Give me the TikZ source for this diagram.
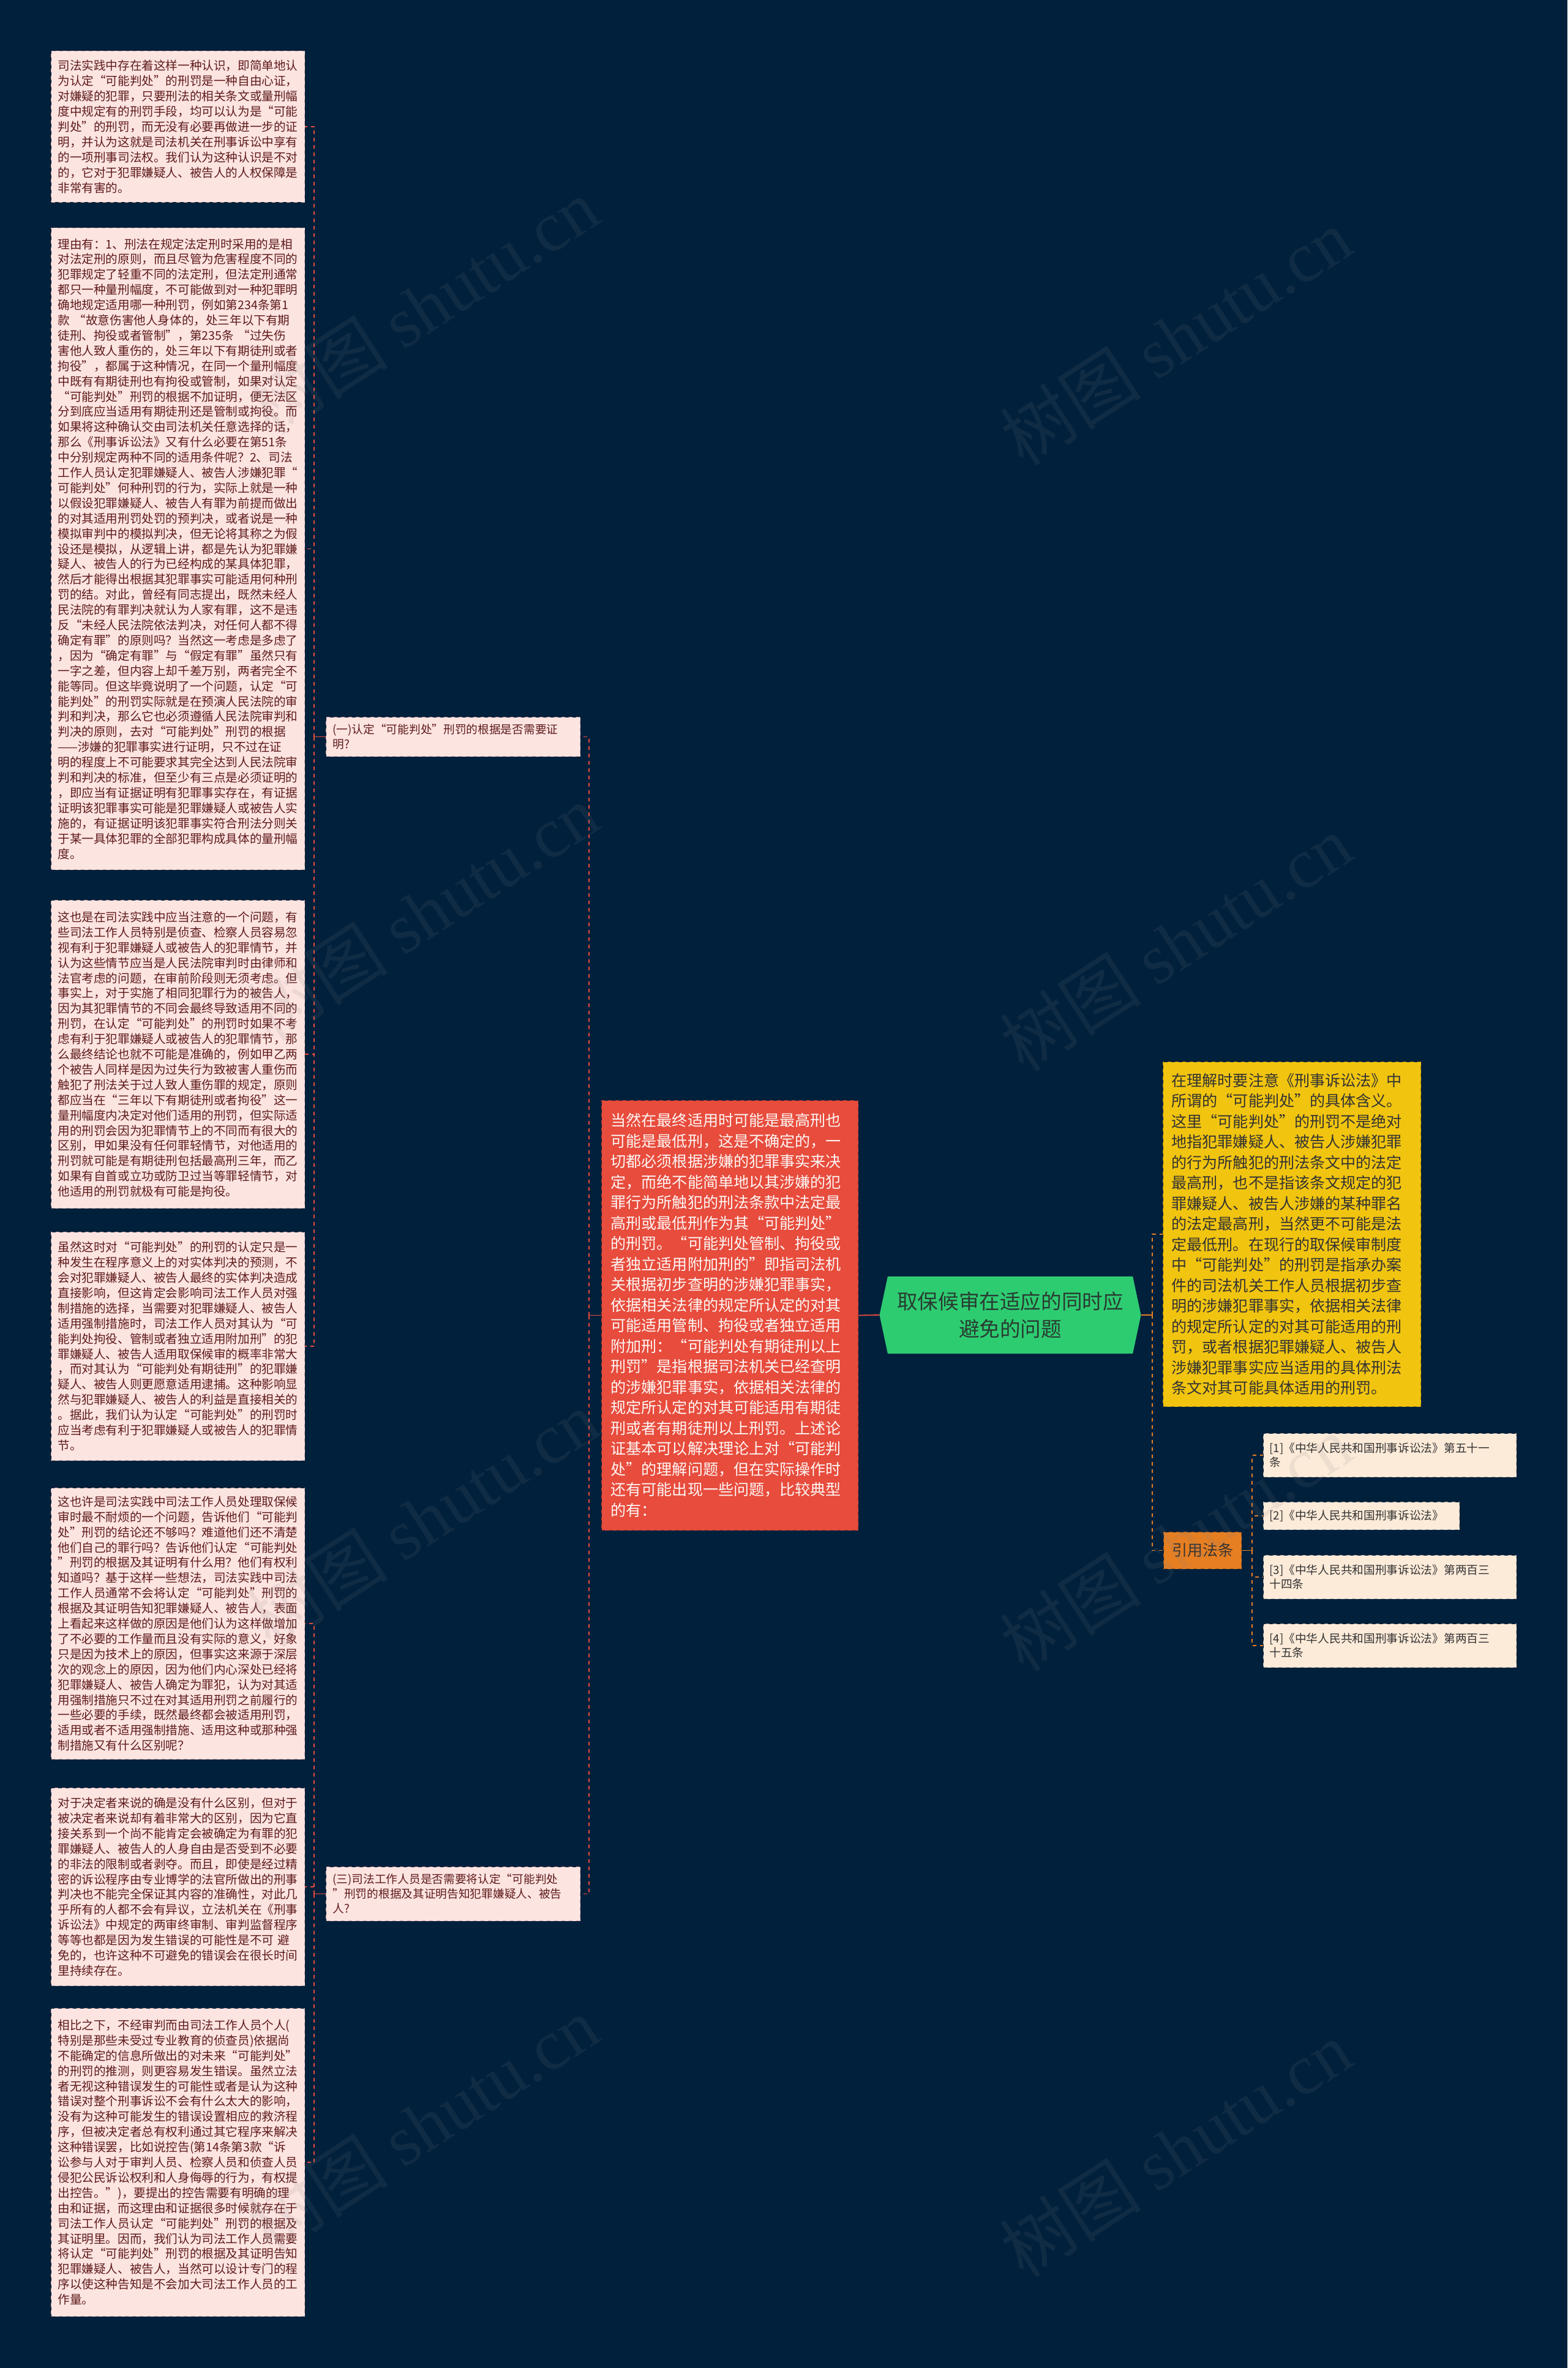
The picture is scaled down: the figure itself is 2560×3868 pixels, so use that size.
\documentclass[tikz,border=0pt]{standalone}
\usepackage{fontspec}
\setmainfont{Noto Sans CJK SC}
\newfontfamily\wmlatin{Liberation Serif}
\usetikzlibrary{shapes.symbols}

% --- 颜色 ---
\definecolor{bgnavy}{RGB}{1,32,60}
\definecolor{leafpink}{RGB}{252,228,225}
\definecolor{leafedge}{RGB}{214,170,165}
\definecolor{leaftext}{RGB}{94,27,27}
\definecolor{lunred}{RGB}{231,76,60}
\definecolor{rootgreen}{RGB}{46,204,113}
\definecolor{roottext}{RGB}{40,60,50}
\definecolor{lijieyellow}{RGB}{241,196,15}
\definecolor{citeorange}{RGB}{230,126,34}
\definecolor{refpeach}{RGB}{253,235,217}
\definecolor{darktext}{RGB}{51,51,51}

\tikzset{
  leafbox/.style={anchor=north west, fill=leafpink, draw=leafedge, dashed, line width=0.5pt,
    text=leaftext, align=left, text width=196pt, inner xsep=5.5pt, inner ysep=0pt,
    font=\fontsize{9.8pt}{12.45pt}\selectfont},
  qbox/.style={anchor=north west, fill=leafpink, draw=leafedge, dashed, line width=0.5pt,
    text=leaftext, align=left, text width=196.5pt, inner xsep=5.5pt, inner ysep=0pt,
    font=\fontsize{9.35pt}{12pt}\selectfont},
  lunbox/.style={anchor=north west, fill=lunred, draw=lunred!75!black, dashed, line width=0.5pt,
    text=white!95!lunred, align=left, text width=194.5pt, inner xsep=7.5pt, inner ysep=0pt,
    font=\fontsize{12.55pt}{16.75pt}\selectfont},
  lijiebox/.style={anchor=north west, fill=lijieyellow, draw=lijieyellow!70!black, dashed, line width=0.5pt,
    text=darktext, align=left, text width=196.5pt, inner xsep=7pt, inner ysep=0pt,
    font=\fontsize{12.55pt}{16.75pt}\selectfont},
  citebox/.style={anchor=north west, fill=citeorange, draw=citeorange!70!black, dashed, line width=0.5pt,
    text=darktext, align=center, inner sep=0pt, minimum width=63.5pt, minimum height=30pt,
    font=\fontsize{12.5pt}{15pt}\selectfont},
  refbox/.style={anchor=north west, fill=refpeach, draw=refpeach!75!black, dashed, line width=0.5pt,
    text=darktext, align=left, text width=196.5pt, inner xsep=5pt, inner ysep=0pt,
    font=\fontsize{9.35pt}{11.65pt}\selectfont},
  rootbox/.style={shape=signal, signal to=west and east, signal pointer angle=156,
    fill=rootgreen, text=roottext, align=center, inner sep=0pt,
    minimum width=213.5pt, minimum height=63pt,
    font=\fontsize{16.8pt}{22.25pt}\selectfont},
  redline/.style={draw=lunred, line width=0.9pt},
  orangeline/.style={draw=citeorange, line width=0.9pt},
  wmark/.style={rotate=33, text=gray, opacity=0.12, inner sep=0pt,
    font=\fontsize{58pt}{58pt}\selectfont},
}

\begin{document}
\begin{tikzpicture}[x=0.5pt,y=-0.5pt]
  % --- 背景 ---
  \useasboundingbox (0,0) rectangle (2560,3868);
  \fill[bgnavy] (0,0) rectangle (2560,3868);

  % --- 中心主题 ---
  \node[rootbox] (root) at (1650,2148) {取保候审在适应的同时应\\避免的问题};

  % --- 左侧：论述 ---
  \node[lunbox, minimum height=351pt] (lunshu) at (982,1797) {%
当然在最终适用时可能是最高刑也\\
可能是最低刑，这是不确定的，一\\
切都必须根据涉嫌的犯罪事实来决\\
定，而绝不能简单地以其涉嫌的犯\\
罪行为所触犯的刑法条款中法定最\\
高刑或最低刑作为其“可能判处”\\
的刑罚。“可能判处管制、拘役或\\
者独立适用附加刑的”即指司法机\\
关根据初步查明的涉嫌犯罪事实，\\
依据相关法律的规定所认定的对其\\
可能适用管制、拘役或者独立适用\\
附加刑：“可能判处有期徒刑以上\\
刑罚”是指根据司法机关已经查明\\
的涉嫌犯罪事实，依据相关法律的\\
规定所认定的对其可能适用有期徒\\
刑或者有期徒刑以上刑罚。上述论\\
证基本可以解决理论上对“可能判\\
处”的理解问题，但在实际操作时\\
还有可能出现一些问题，比较典型\\
的有：};

  % 两个问题
  \node[qbox, minimum height=32pt] (wenti1) at (532,1171) {%
(一)认定“可能判处”刑罚的根据是否需要证\\
明?};
  \node[qbox, minimum height=44pt] (wenti3) at (532,3049) {%
(三)司法工作人员是否需要将认定“可能判处\\
”刑罚的根据及其证明告知犯罪嫌疑人、被告\\
人?};

  % --- 最左侧：各段说明 ---
  \node[leafbox, minimum height=123.5pt] (duan1) at (83,83) {%
司法实践中存在着这样一种认识，即简单地认\\
为认定“可能判处”的刑罚是一种自由心证，\\
对嫌疑的犯罪，只要刑法的相关条文或量刑幅\\
度中规定有的刑罚手段，均可以认为是“可能\\
判处”的刑罚，而无没有必要再做进一步的证\\
明，并认为这就是司法机关在刑事诉讼中享有\\
的一项刑事司法权。我们认为这种认识是不对\\
的，它对于犯罪嫌疑人、被告人的人权保障是\\
非常有害的。};

  \node[leafbox, minimum height=524pt] (duan2) at (83,372) {%
理由有：1、刑法在规定法定刑时采用的是相\\
对法定刑的原则，而且尽管为危害程度不同的\\
犯罪规定了轻重不同的法定刑，但法定刑通常\\
都只一种量刑幅度，不可能做到对一种犯罪明\\
确地规定适用哪一种刑罚，例如第234条第1\\
款 “故意伤害他人身体的，处三年以下有期\\
徒刑、拘役或者管制”，第235条 “过失伤\\
害他人致人重伤的，处三年以下有期徒刑或者\\
拘役”，都属于这种情况，在同一个量刑幅度\\
中既有有期徒刑也有拘役或管制，如果对认定\\
“可能判处”刑罚的根据不加证明，便无法区\\
分到底应当适用有期徒刑还是管制或拘役。而\\
如果将这种确认交由司法机关任意选择的话，\\
那么《刑事诉讼法》又有什么必要在第51条\\
中分别规定两种不同的适用条件呢？2、司法\\
工作人员认定犯罪嫌疑人、被告人涉嫌犯罪“\\
可能判处”何种刑罚的行为，实际上就是一种\\
以假设犯罪嫌疑人、被告人有罪为前提而做出\\
的对其适用刑罚处罚的预判决，或者说是一种\\
模拟审判中的模拟判决，但无论将其称之为假\\
设还是模拟，从逻辑上讲，都是先认为犯罪嫌\\
疑人、被告人的行为已经构成的某具体犯罪，\\
然后才能得出根据其犯罪事实可能适用何种刑\\
罚的结。对此，曾经有同志提出，既然未经人\\
民法院的有罪判决就认为人家有罪，这不是违\\
反“未经人民法院依法判决，对任何人都不得\\
确定有罪”的原则吗？当然这一考虑是多虑了\\
，因为“确定有罪”与“假定有罪”虽然只有\\
一字之差，但内容上却千差万别，两者完全不\\
能等同。但这毕竟说明了一个问题，认定“可\\
能判处”的刑罚实际就是在预演人民法院的审\\
判和判决，那么它也必须遵循人民法院审判和\\
判决的原则，去对“可能判处”刑罚的根据\\
——涉嫌的犯罪事实进行证明，只不过在证\\
明的程度上不可能要求其完全达到人民法院审\\
判和判决的标准，但至少有三点是必须证明的\\
，即应当有证据证明有犯罪事实存在，有证据\\
证明该犯罪事实可能是犯罪嫌疑人或被告人实\\
施的，有证据证明该犯罪事实符合刑法分则关\\
于某一具体犯罪的全部犯罪构成具体的量刑幅\\
度。};

  \node[leafbox, minimum height=251.5pt] (duan3) at (83,1470) {%
这也是在司法实践中应当注意的一个问题，有\\
些司法工作人员特别是侦查、检察人员容易忽\\
视有利于犯罪嫌疑人或被告人的犯罪情节，并\\
认为这些情节应当是人民法院审判时由律师和\\
法官考虑的问题，在审前阶段则无须考虑。但\\
事实上，对于实施了相同犯罪行为的被告人，\\
因为其犯罪情节的不同会最终导致适用不同的\\
刑罚，在认定“可能判处”的刑罚时如果不考\\
虑有利于犯罪嫌疑人或被告人的犯罪情节，那\\
么最终结论也就不可能是准确的，例如甲乙两\\
个被告人同样是因为过失行为致被害人重伤而\\
触犯了刑法关于过人致人重伤罪的规定，原则\\
都应当在“三年以下有期徒刑或者拘役”这一\\
量刑幅度内决定对他们适用的刑罚，但实际适\\
用的刑罚会因为犯罪情节上的不同而有很大的\\
区别，甲如果没有任何罪轻情节，对他适用的\\
刑罚就可能是有期徒刑包括最高刑三年，而乙\\
如果有自首或立功或防卫过当等罪轻情节，对\\
他适用的刑罚就极有可能是拘役。};

  \node[leafbox, minimum height=186.5pt] (duan4) at (83,2012) {%
虽然这时对“可能判处”的刑罚的认定只是一\\
种发生在程序意义上的对实体判决的预测，不\\
会对犯罪嫌疑人、被告人最终的实体判决造成\\
直接影响，但这肯定会影响司法工作人员对强\\
制措施的选择，当需要对犯罪嫌疑人、被告人\\
适用强制措施时，司法工作人员对其认为“可\\
能判处拘役、管制或者独立适用附加刑”的犯\\
罪嫌疑人、被告人适用取保候审的概率非常大\\
，而对其认为“可能判处有期徒刑”的犯罪嫌\\
疑人、被告人则更愿意适用逮捕。这种影响显\\
然与犯罪嫌疑人、被告人的利益是直接相关的\\
。据此，我们认为认定“可能判处”的刑罚时\\
应当考虑有利于犯罪嫌疑人或被告人的犯罪情\\
节。};

  \node[leafbox, minimum height=221.5pt] (duan5) at (83,2430) {%
这也许是司法实践中司法工作人员处理取保候\\
审时最不耐烦的一个问题，告诉他们“可能判\\
处”刑罚的结论还不够吗？难道他们还不清楚\\
他们自己的罪行吗？告诉他们认定“可能判处\\
”刑罚的根据及其证明有什么用？他们有权利\\
知道吗？基于这样一些想法，司法实践中司法\\
工作人员通常不会将认定“可能判处”刑罚的\\
根据及其证明告知犯罪嫌疑人、被告人，表面\\
上看起来这样做的原因是他们认为这样做增加\\
了不必要的工作量而且没有实际的意义，好象\\
只是因为技术上的原因，但事实这来源于深层\\
次的观念上的原因，因为他们内心深处已经将\\
犯罪嫌疑人、被告人确定为罪犯，认为对其适\\
用强制措施只不过在对其适用刑罚之前履行的\\
一些必要的手续，既然最终都会被适用刑罚，\\
适用或者不适用强制措施、适用这种或那种强\\
制措施又有什么区别呢？};

  \node[leafbox, minimum height=161.5pt] (duan6) at (83,2920) {%
对于决定者来说的确是没有什么区别，但对于\\
被决定者来说却有着非常大的区别，因为它直\\
接关系到一个尚不能肯定会被确定为有罪的犯\\
罪嫌疑人、被告人的人身自由是否受到不必要\\
的非法的限制或者剥夺。而且，即使是经过精\\
密的诉讼程序由专业博学的法官所做出的刑事\\
判决也不能完全保证其内容的准确性，对此几\\
乎所有的人都不会有异议，立法机关在《刑事\\
诉讼法》中规定的两审终审制、审判监督程序\\
等等也都是因为发生错误的可能性是不可 避\\
免的，也许这种不可避免的错误会在很长时间\\
里持续存在。};

  \node[leafbox, minimum height=251.5pt] (duan7) at (83,3280) {%
相比之下，不经审判而由司法工作人员个人(\\
特别是那些未受过专业教育的侦查员)依据尚\\
不能确定的信息所做出的对未来“可能判处”\\
的刑罚的推测，则更容易发生错误。虽然立法\\
者无视这种错误发生的可能性或者是认为这种\\
错误对整个刑事诉讼不会有什么太大的影响，\\
没有为这种可能发生的错误设置相应的救济程\\
序，但被决定者总有权利通过其它程序来解决\\
这种错误罢，比如说控告(第14条第3款“诉\\
讼参与人对于审判人员、检察人员和侦查人员\\
侵犯公民诉讼权利和人身侮辱的行为，有权提\\
出控告。”)，要提出的控告需要有明确的理\\
由和证据，而这理由和证据很多时候就存在于\\
司法工作人员认定“可能判处”刑罚的根据及\\
其证明里。因而，我们认为司法工作人员需要\\
将认定“可能判处”刑罚的根据及其证明告知\\
犯罪嫌疑人、被告人，当然可以设计专门的程\\
序以使这种告知是不会加大司法工作人员的工\\
作量。};

  % --- 右侧：理解与引用法条 ---
  \node[lijiebox, minimum height=281.5pt] (lijie) at (1899,1734) {%
在理解时要注意《刑事诉讼法》中\\
所谓的“可能判处”的具体含义。\\
这里“可能判处”的刑罚不是绝对\\
地指犯罪嫌疑人、被告人涉嫌犯罪\\
的行为所触犯的刑法条文中的法定\\
最高刑，也不是指该条文规定的犯\\
罪嫌疑人、被告人涉嫌的某种罪名\\
的法定最高刑，当然更不可能是法\\
定最低刑。在现行的取保候审制度\\
中“可能判处”的刑罚是指承办案\\
件的司法机关工作人员根据初步查\\
明的涉嫌犯罪事实，依据相关法律\\
的规定所认定的对其可能适用的刑\\
罚，或者根据犯罪嫌疑人、被告人\\
涉嫌犯罪事实应当适用的具体刑法\\
条文对其可能具体适用的刑罚。};

  \node[citebox] (yinyong) at (1900,2502) {引用法条};

  \node[refbox, minimum height=35.5pt] (fatiao1) at (2063,2341) {[1]《中华人民共和国刑事诉讼法》第五十一\\条};
  \node[refbox, minimum height=22.5pt, text width=150pt] (fatiao2) at (2063,2453) {[2]《中华人民共和国刑事诉讼法》};
  \node[refbox, minimum height=35.5pt] (fatiao3) at (2063,2540) {[3]《中华人民共和国刑事诉讼法》第两百三\\十四条};
  \node[refbox, minimum height=35.5pt] (fatiao4) at (2063,2652) {[4]《中华人民共和国刑事诉讼法》第两百三\\十五条};

  % --- 连线 ---
  \coordinate (jlun) at ([xshift=-10pt]lunshu.west);
  \coordinate (jw1) at ([xshift=-9.5pt]wenti1.west);
  \coordinate (jw3) at ([xshift=-9.5pt]wenti3.west);
  \coordinate (jroot) at ([xshift=9pt]root.east);
  \coordinate (jyin) at ([xshift=8.5pt]yinyong.east);

  \draw[redline] (root.west) -- (lunshu.east);
  \draw[redline] (lunshu.west) -- (jlun);
  \foreach \n in {wenti1,wenti3}
    \draw[redline, dashed] (jlun) |- (\n.east);
  \draw[redline] (wenti1.west) -- (jw1);
  \foreach \n in {duan1,duan2,duan3,duan4}
    \draw[redline, dashed] (jw1) |- (\n.east);
  \draw[redline] (wenti3.west) -- (jw3);
  \foreach \n in {duan5,duan6,duan7}
    \draw[redline, dashed] (jw3) |- (\n.east);

  \draw[orangeline] (root.east) -- (jroot);
  \foreach \n in {lijie,yinyong}
    \draw[orangeline, dashed] (jroot) |- (\n.west);
  \draw[orangeline] (yinyong.east) -- (jyin);
  \foreach \n in {fatiao1,fatiao2,fatiao3,fatiao4}
    \draw[orangeline, dashed] (jyin) |- (\n.west);

  % --- 水印 ---
  \foreach \wx/\wy [count=\i] in {690/500, 1920/550, 690/1490, 1920/1540, 690/2480, 1920/2520, 690/3470, 1920/3510}
    \node[wmark] (wm\i) at (\wx,\wy) {树图 {\wmlatin shutu.cn}};
\end{tikzpicture}
\end{document}
